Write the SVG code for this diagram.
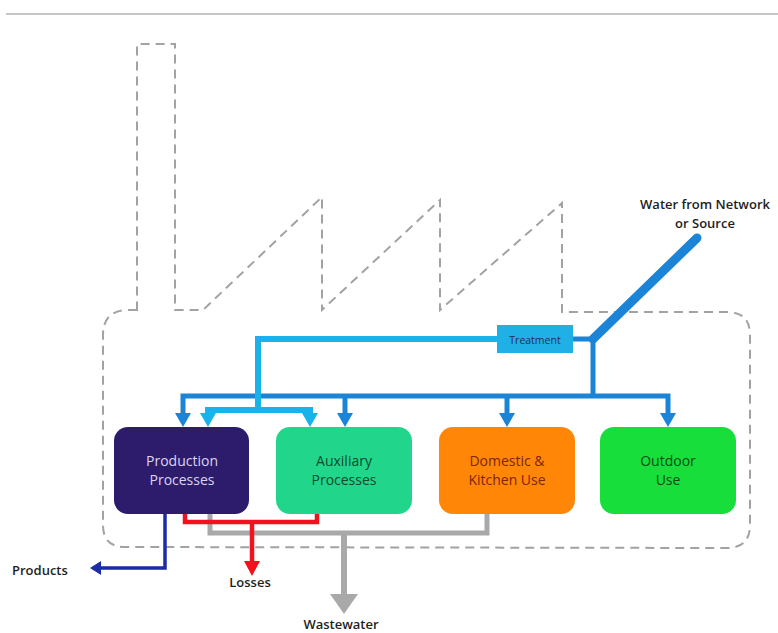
<svg xmlns="http://www.w3.org/2000/svg" width="778" height="633" viewBox="0 0 778 633">
<style>
.outline{fill:none;stroke:#a2a2a2;stroke-width:2;stroke-dasharray:9 6}
.box text{font-family:"Open Sans","Liberation Sans",sans-serif;font-size:14px;text-anchor:middle}
.lbl{font-family:"Open Sans","Liberation Sans",sans-serif;font-size:13px;font-weight:600;fill:#1e1e1e}
.pipe{fill:none;stroke-linejoin:miter}
.dark{stroke:#1b84d6;stroke-width:5}
.light{stroke:#17b3ea;stroke-width:6}
.hd{fill:#1b84d6}
.hl{fill:#17b3ea}
</style>
<line x1="6" y1="14" x2="778" y2="14" stroke="#c6c6c6" stroke-width="2"/>
<path class="outline" d="M137,310 L125,310 Q103,312 103,335 L103,525 Q103,547 125,547 L727,548 Q750,548 750,525 L750,335 Q750,312 727,312 L562,312 L562,203 L440,310 L440,200 L322,310 L322,197 L203,310 L175,310 L175,44 L137,44 Z"/>
<g id="connectors">
<line x1="697" y1="238" x2="593" y2="339" stroke="#1b84d6" stroke-width="9" stroke-linecap="round"/>
<path class="pipe dark" d="M573,339 L593,339 L593,396"/>
<path class="pipe dark" d="M183,416 L183,396 L668,396 L668,416"/>
<line class="dark" x1="345" y1="396" x2="345" y2="416"/>
<line class="dark" x1="507" y1="396" x2="507" y2="416"/>
<polygon class="hd" points="175,413 191,413 183,427"/>
<polygon class="hd" points="337,413 353,413 345,427"/>
<polygon class="hd" points="499,413 515,413 507,427"/>
<polygon class="hd" points="660,413 676,413 668,427"/>
<path class="pipe light" d="M497,339 L258,339 L258,410"/>
<path class="pipe light" d="M208,416 L208,410 L310,410 L310,416"/>
<polygon class="hl" points="200,413 216,413 208,427"/>
<polygon class="hl" points="302,413 318,413 310,427"/>
<path d="M165,514 L165,568 L98,568" fill="none" stroke="#1c2ba6" stroke-width="3.5"/>
<polygon points="90,568 101,561 101,575" fill="#1c2ba6"/>
<path d="M210,514 L210,533 L487,533 L487,514" fill="none" stroke="#a9a9a9" stroke-width="5"/>
<line x1="344" y1="533" x2="344" y2="598" stroke="#a9a9a9" stroke-width="6"/>
<polygon points="330,594 358,594 344,614" fill="#a9a9a9"/>
<path d="M185,514 L185,522 L317,522 L317,514" fill="none" stroke="#f2121e" stroke-width="4.5"/>
<line x1="252" y1="522" x2="252" y2="564" stroke="#f2121e" stroke-width="4.5"/>
<polygon points="244,561 260,561 252,576" fill="#f2121e"/>
</g>
<g id="treatment">
<rect x="497" y="325" width="76" height="28" fill="#1fb0e6"/>
<text x="535" y="344" font-family="Open Sans, Liberation Sans, sans-serif" font-size="10.5" fill="#1a3350" text-anchor="middle">Treatment</text>
</g>
<g id="production" class="box">
<rect x="114" y="427" width="135" height="87" rx="14" fill="#2d1b6c"/>
<text x="182" y="466" fill="#ddd5f2">Production</text>
<text x="182" y="485" fill="#ddd5f2">Processes</text>
</g>
<g id="auxiliary" class="box">
<rect x="276" y="427" width="136" height="87" rx="14" fill="#21d68b"/>
<text x="344" y="466" fill="#0f4a2b">Auxiliary</text>
<text x="344" y="485" fill="#0f4a2b">Processes</text>
</g>
<g id="domestic" class="box">
<rect x="439" y="427" width="136" height="87" rx="14" fill="#ff8606"/>
<text x="507" y="466" fill="#7a2606">Domestic &amp;</text>
<text x="507" y="485" fill="#7a2606">Kitchen Use</text>
</g>
<g id="outdoor" class="box">
<rect x="600" y="427" width="136" height="87" rx="14" fill="#18de3b"/>
<text x="668" y="466" fill="#0b4a14">Outdoor</text>
<text x="668" y="485" fill="#0b4a14">Use</text>
</g>
<g id="labels">
<text class="lbl" x="705" y="209" text-anchor="middle">Water from Network</text>
<text class="lbl" x="705" y="228" text-anchor="middle">or Source</text>
<text class="lbl" x="12" y="575">Products</text>
<text class="lbl" x="250" y="587" text-anchor="middle">Losses</text>
<text class="lbl" x="341" y="629" text-anchor="middle">Wastewater</text>
</g>
</svg>
